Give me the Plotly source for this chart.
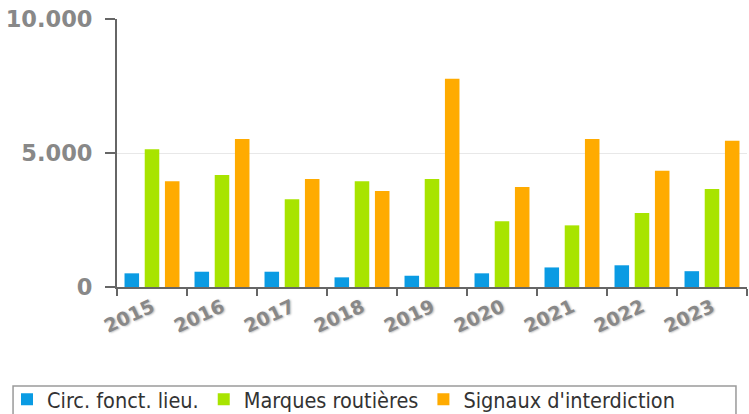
import plotly.graph_objects as go

years = ["2015", "2016", "2017", "2018", "2019", "2020", "2021", "2022", "2023"]
circ = [510, 570, 570, 360, 420, 510, 730, 810, 590]
marques = [5140, 4180, 3270, 3950, 4030, 2450, 2300, 2760, 3660]
signaux = [3950, 5520, 4030, 3580, 7770, 3730, 5520, 4340, 5460]

names = ["Circ. fonct. lieu.", "Marques routières", "Signaux d'interdiction"]
colors = ["#0a9be3", "#a8e400", "#ffab00"]

fig = go.Figure()
for n, vals, c in zip(names, [circ, marques, signaux], colors):
    fig.add_trace(go.Bar(x=years, y=vals, name=n,
                         marker=dict(color=c, line=dict(width=0))))

fig.update_layout(
    width=749, height=414,
    margin=dict(l=117, r=2, t=19, b=127, autoexpand=False),
    paper_bgcolor="white", plot_bgcolor="white",
    barmode="group", bargap=0.134, bargroupgap=0.28,
    separators=",.",
    font=dict(family="DejaVu Sans", color="#555"),
    showlegend=True,
    legend=dict(orientation="h", x=-0.1746, xanchor="left", y=-0.419, yanchor="middle",
                font=dict(size=21.5, color="#333", family="DejaVu Sans Condensed, DejaVu Sans"),
                itemwidth=30, traceorder="normal", bgcolor="rgba(0,0,0,0)"),
    shapes=[dict(type="rect", xref="paper", yref="paper",
                 x0=-0.165, x1=0.9825, y0=-0.369, y1=-0.6,
                 line=dict(color="#9a9a9a", width=1.5), fillcolor="rgba(0,0,0,0)")],
)
fig.update_yaxes(range=[0, 10000], tickvals=[0, 5000, 10000], tickformat=",d",
                 automargin=False,
                 showline=True, linecolor="#666", linewidth=2,
                 ticks="outside", ticklen=10, tickcolor="#666", tickwidth=2,
                 ticklabelstandoff=8,
                 gridcolor="#e8e8e8", gridwidth=1, zeroline=False,
                 tickfont=dict(size=22.5, color="#888", family="DejaVu Sans", weight="bold"))
fig.update_xaxes(showline=True, linecolor="#666", linewidth=2, automargin=False,
                 ticks="outside", ticklen=7, tickcolor="#666", tickwidth=2,
                 tickson="boundaries", tickangle=-25,
                 tickfont=dict(size=19, color="#888", family="DejaVu Sans", weight="bold",
                               shadow="1px 1px 2px #bbb"))

fig.write_html("out.html", config={"displayModeBar": False},
               post_script="document.body.style.margin='0';")
